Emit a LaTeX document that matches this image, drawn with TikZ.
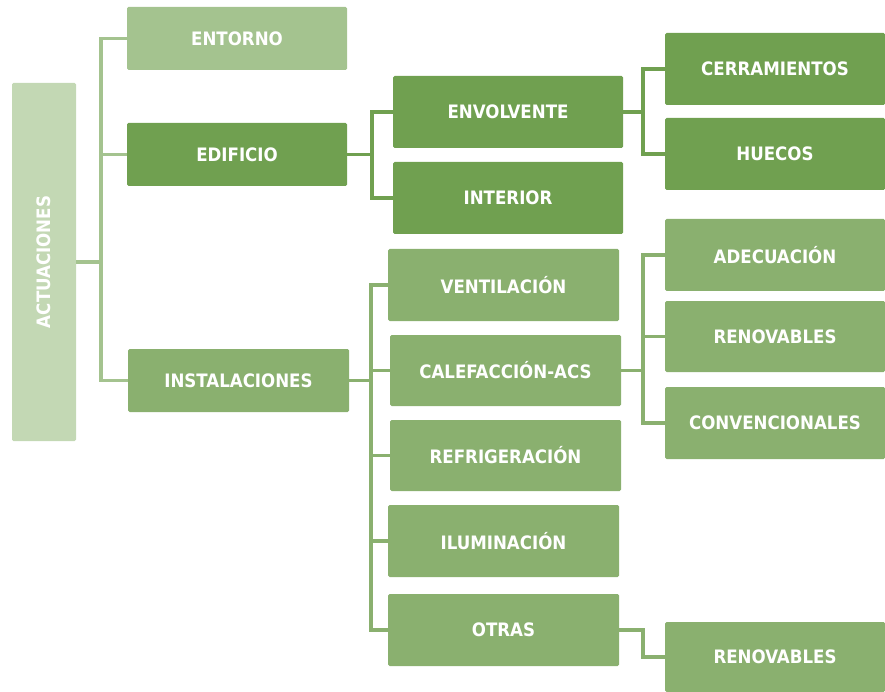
\documentclass[tikz,border=0pt]{standalone}
\usepackage{fontspec}
\setmainfont{DejaVu Sans Condensed}
\usepackage{tikz}
\usetikzlibrary{positioning, calc}

\definecolor{verdeact}{HTML}{C3D8B4}
\definecolor{verdeclaro}{HTML}{A4C38F}
\definecolor{verdeosc}{HTML}{70A050}
\definecolor{verdemed}{HTML}{8AB06F}

\begin{document}
\begin{tikzpicture}[x=1pt, y=-1pt,
    caja/.style={rectangle, rounded corners=1.5pt, inner sep=0pt, text=white,
        font=\fontsize{18.5}{20}\selectfont\bfseries, minimum width=220pt, minimum height=72pt},
    nivel1/.style={caja, minimum height=63pt},
    rama/.style={line width=3.5pt}
]
        \useasboundingbox (0,0) rectangle (885,692);

        % Raiz
        \node[caja, fill=verdeact, minimum width=64pt, minimum height=358pt] (act) at (44,262)
            {\rotatebox{90}{ACTUACIONES}};

        % Primer nivel
        \node[nivel1, fill=verdeclaro] (ent) at (237,38.5) {ENTORNO};
        \node[nivel1, fill=verdeosc] (edi) at (237,154.5) {EDIFICIO};
        \node[nivel1, fill=verdemed, minimum width=221pt] (ins) at (238.5,380.5) {INSTALACIONES};

        % Edificio
        \node[caja, fill=verdeosc, minimum width=230pt] (env) at (508,112) {ENVOLVENTE};
        \node[caja, fill=verdeosc, minimum width=230pt] (inte) at (508,198) {INTERIOR};
        \node[caja, fill=verdeosc] (cer) at (775,69) {CERRAMIENTOS};
        \node[caja, fill=verdeosc] (hue) at (775,154) {HUECOS};

        % Instalaciones
        \node[caja, fill=verdemed, minimum width=231pt] (ven) at (503.5,285) {VENTILACIÓN};
        \node[caja, fill=verdemed, minimum width=231pt, minimum height=71pt] (cal) at (505.5,370.5) {CALEFACCIÓN-ACS};
        \node[caja, fill=verdemed, minimum width=231pt, minimum height=71pt] (ref) at (505.5,455.5) {REFRIGERACIÓN};
        \node[caja, fill=verdemed, minimum width=231pt] (ilu) at (503.5,541) {ILUMINACIÓN};
        \node[caja, fill=verdemed, minimum width=231pt] (otr) at (503.5,630) {OTRAS};
        \node[caja, fill=verdemed] (ade) at (775,255) {ADECUACIÓN};
        \node[caja, fill=verdemed, minimum height=71pt] (ren) at (775,336.5) {RENOVABLES};
        \node[caja, fill=verdemed] (con) at (775,423) {CONVENCIONALES};
        \node[caja, fill=verdemed, minimum height=70pt] (ren2) at (775,657) {RENOVABLES};

        % Ramas
        \foreach \hijo in {ent, edi, ins}
            \draw[rama, verdeclaro] (act.east) -- ++(25,0) |- (\hijo.west);
        \foreach \hijo in {env, inte}
            \draw[rama, verdeosc] (edi.east) -- ++(25,0) |- (\hijo.west);
        \foreach \hijo in {cer, hue}
            \draw[rama, verdeosc] (env.east) -- ++(20,0) |- (\hijo.west);
        \foreach \hijo in {ven, cal, ref, ilu, otr}
            \draw[rama, verdemed] (ins.east) -- ++(22,0) |- (\hijo.west);
        \foreach \hijo in {ade, ren, con}
            \draw[rama, verdemed] (cal.east) -- ++(22,0) |- (\hijo.west);
        \draw[rama, verdemed] (otr.east) -- ++(24,0) |- (ren2.west);
\end{tikzpicture}
\end{document}
